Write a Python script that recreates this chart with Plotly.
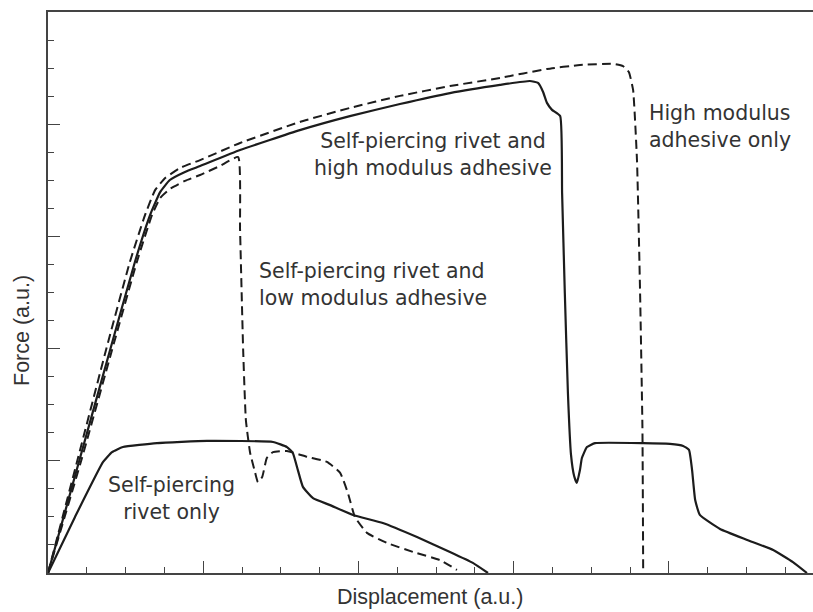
import plotly.graph_objects as go

# ---- data (arbitrary units; 1 unit = one minor tick) ----
spr_high_x = [0, 0.825, 1.60, 2.24, 2.63, 2.89, 3.14, 3.53, 3.92, 4.95, 6.49, 7.78, 9.07, 10.36, 11.65, 12.42,
              12.63, 12.76, 12.86, 12.99, 13.20, 13.25, 13.32, 13.40, 13.48, 13.56, 13.63, 13.71, 13.76, 13.89,
              14.10, 15.34, 16.03, 16.37, 16.52, 16.60, 16.68, 16.80, 17.32, 18.02, 18.69, 19.20, 19.56]
spr_high_y = [0, 4.10, 7.95, 11.09, 12.76, 13.58, 14.01, 14.30, 14.51, 15.08, 15.79, 16.29, 16.72, 17.11, 17.40, 17.54,
              17.47, 17.15, 16.76, 16.51, 16.29, 13.55, 9.98, 6.42, 4.21, 3.46, 3.21, 3.67, 4.10, 4.49,
              4.63, 4.63, 4.60, 4.53, 4.39, 3.67, 2.60, 2.07, 1.57, 1.18, 0.82, 0.39, 0]

adh_high_x = [0, 0.773, 1.495, 2.11, 2.50, 2.76, 3.02, 3.40, 3.92, 4.95, 6.49, 7.78, 9.07, 10.36, 11.65, 12.86,
              13.71, 14.56, 14.82, 14.97, 15.08, 15.18, 15.26, 15.32, 15.34]
adh_high_y = [0, 4.10, 7.95, 11.09, 12.76, 13.65, 14.08, 14.44, 14.72, 15.33, 16.08, 16.58, 17.01, 17.36, 17.65, 17.97,
              18.11, 18.15, 18.07, 17.86, 17.22, 14.72, 9.98, 5.20, 0]

spr_low_x = [0, 0.876, 1.65, 2.29, 2.68, 2.89, 3.14, 3.53, 3.92, 4.43, 4.90, 4.95, 5.03, 5.10, 5.21, 5.34, 5.41,
             5.52, 5.64, 5.80, 6.16, 6.68, 7.19, 7.53, 7.73, 7.91, 8.22, 8.74, 9.41, 10.10, 10.54]
spr_low_y = [0, 4.10, 7.95, 11.09, 12.76, 13.37, 13.69, 13.98, 14.19, 14.51, 14.83, 12.23, 7.95, 5.45, 4.28, 3.57, 3.24,
             3.42, 4.10, 4.31, 4.35, 4.14, 3.96, 3.57, 2.85, 2.00, 1.43, 1.07, 0.75, 0.46, 0.11]

spr_only_x = [0, 0.696, 1.42, 1.65, 1.93, 2.81, 4.10, 5.80, 6.16, 6.31, 6.44, 6.57, 6.83, 7.27, 7.86, 8.63, 9.51,
              10.36, 10.95, 11.34]
spr_only_y = [0, 2.00, 3.96, 4.31, 4.49, 4.63, 4.71, 4.67, 4.49, 4.28, 3.67, 3.07, 2.67, 2.42, 2.07, 1.78, 1.28,
              0.75, 0.36, 0]

labels = ["Self-piercing rivet and<br>high modulus adhesive",
          "High modulus<br>adhesive only",
          "Self-piercing rivet and<br>low modulus adhesive",
          "Self-piercing<br>rivet only"]
x_title = "Displacement (a.u.)"
y_title = "Force (a.u.)"

# ---- figure ----
W, H = 813, 612
L, R, T, B = 48, 0, 12, 39
X0, X1 = L, W - R
Y0, Y1 = H - B, T


def px(xp, yp):
    return (xp - X0) / (X1 - X0), (Y0 - yp) / (Y0 - Y1)


line_col = "#1c1c1c"
fig = go.Figure()
fig.add_trace(go.Scatter(x=adh_high_x, y=adh_high_y, mode="lines",
                         line=dict(color=line_col, width=2, dash="9px,5px", shape="spline", smoothing=0.4)))
fig.add_trace(go.Scatter(x=spr_low_x, y=spr_low_y, mode="lines",
                         line=dict(color=line_col, width=2, dash="9px,5px", shape="spline", smoothing=0.4)))
fig.add_trace(go.Scatter(x=spr_high_x, y=spr_high_y, mode="lines",
                         line=dict(color=line_col, width=2.2, shape="spline", smoothing=0.4)))
fig.add_trace(go.Scatter(x=spr_only_x, y=spr_only_y, mode="lines",
                         line=dict(color=line_col, width=2.2, shape="spline", smoothing=0.4)))

lab_font = dict(family="DejaVu Sans", size=20.5, color="#333333")
ann = []
specs = [(labels[0], 433, 154.5, "center"),
         (labels[1], 647, 126, "left"),
         (labels[2], 257, 285, "left"),
         (labels[3], 171.5, 498, "center")]
for txt, xp, yp, al in specs:
    xx, yy = px(xp, yp)
    ann.append(dict(text=txt, x=xx, y=yy, xref="paper", yref="paper", showarrow=False,
                    xanchor=al, yanchor="middle", align=al, font=lab_font))

ax_font = dict(family="Liberation Sans", size=21.5, color="#333333")
xx, yy = px(430, 597)
ann.append(dict(text=x_title, x=xx, y=yy, xref="paper", yref="paper", showarrow=False,
                xanchor="center", yanchor="middle", font=ax_font))
xx, yy = px(22, 331)
ann.append(dict(text=y_title, x=xx, y=yy, xref="paper", yref="paper", showarrow=False,
                xanchor="center", yanchor="middle", textangle=-90, font=ax_font))

axis_common = dict(showgrid=False, zeroline=False, showline=True, linecolor="#444444", linewidth=1.5,
                   showticklabels=False, ticks="inside", tickcolor="#444444", tickwidth=1.3,
                   tick0=0, dtick=4, ticklen=12,
                   minor=dict(ticks="inside", dtick=1, tick0=0, ticklen=6, tickcolor="#444444", tickwidth=1.3))

fig.update_layout(width=W, height=H, margin=dict(l=L, r=R, t=T, b=B),
                  paper_bgcolor="white", plot_bgcolor="white", showlegend=False,
                  annotations=ann,
                  xaxis=dict(range=[0, (X1 - X0) / 38.8], mirror=True, **axis_common),
                  yaxis=dict(range=[0, 20], mirror=False, **axis_common))

fig.write_html("out.html")
